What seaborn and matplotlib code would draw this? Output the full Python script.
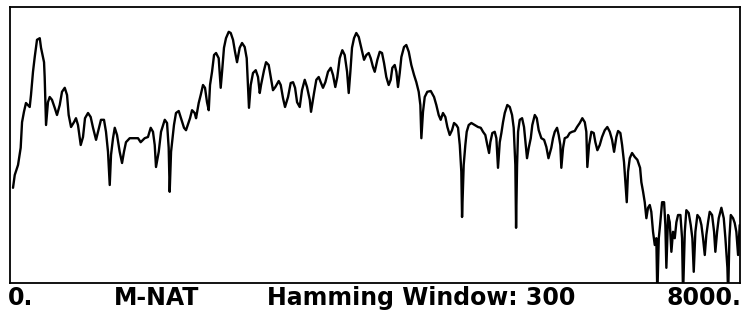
import numpy as np
import pandas as pd
import matplotlib
matplotlib.use("Agg")
from matplotlib import pyplot as plt
import seaborn as sns

# Spectrum: frequency (Hz) and level (dB, arbitrary zero)
freq_hz = [
    33, 52, 88, 117, 132, 153, 175, 216, 230, 252, 271, 296, 326, 340, 373, 380, 395,
    416, 435, 460, 490, 515, 545, 570, 600, 625, 643, 669, 701, 723, 745, 775, 800,
    822, 855, 884, 910, 943,
    997, 1030, 1052, 1074, 1093, 1107, 1129, 1148, 1173, 1202, 1228, 1249, 1271,
    1312, 1367, 1403, 1432, 1476, 1512, 1542, 1567, 1586, 1600, 1630, 1655, 1696,
    1721, 1739, 1750, 1765, 1797, 1819, 1849, 1874, 1907, 1929,
    1973, 1995, 2024, 2039, 2068, 2090, 2115, 2137, 2159, 2178, 2192, 2214, 2236,
    2258, 2287, 2309, 2324, 2345, 2367, 2397, 2419, 2444, 2466, 2488, 2517, 2543,
    2572, 2594, 2608, 2619, 2638, 2663, 2693, 2718, 2737, 2751, 2784, 2806, 2835,
    2857, 2882, 2908, 2945,
    2967, 2992, 3014, 3047, 3076, 3102, 3124, 3146, 3175, 3200, 3230, 3255, 3285,
    3299, 3332, 3357, 3383, 3405, 3430, 3456, 3485, 3515, 3540, 3565, 3587, 3613,
    3642, 3668, 3694, 3712, 3730, 3748, 3770, 3795, 3822, 3850, 3880, 3905, 3931,
    3953, 3978, 3997, 4026, 4052, 4077, 4099, 4124, 4150, 4172, 4190, 4216, 4234,
    4252, 4271, 4289, 4318, 4343, 4370, 4398, 4428, 4453, 4479, 4497, 4508, 4526,
    4545, 4573, 4611, 4647, 4672, 4698, 4720, 4745, 4771, 4793, 4819, 4844, 4866,
    4891, 4910, 4929, 4946, 4954, 4972, 4990, 5005, 5027, 5056, 5093, 5129, 5159,
    5184, 5209, 5231, 5250, 5264, 5286, 5312, 5330, 5348, 5367, 5385, 5403, 5422,
    5450, 5477, 5502, 5520, 5538, 5546, 5557, 5568, 5586, 5612, 5633, 5652, 5666,
    5685, 5707, 5724, 5751, 5773, 5794, 5823, 5853, 5878, 5901,
    5932, 5951, 5970, 5995, 6013, 6031, 6042, 6061, 6079, 6108, 6134, 6160, 6189,
    6214, 6244, 6272, 6299, 6316, 6327, 6346, 6371, 6397, 6415, 6437, 6463, 6488,
    6518, 6546, 6573, 6598, 6620, 6645, 6664, 6689, 6708, 6729, 6744, 6759, 6773,
    6792, 6817, 6847, 6875, 6905,
    6919, 6938, 6956, 6974, 6992, 7011, 7028, 7047, 7066, 7083, 7094, 7110, 7124,
    7146, 7168, 7182, 7193, 7212, 7230, 7248, 7266, 7285, 7303, 7321, 7347, 7365,
    7376, 7395, 7412, 7438, 7460, 7478, 7493, 7511, 7533, 7559, 7577, 7595, 7614,
    7631, 7650, 7668, 7694, 7716, 7730, 7749, 7767, 7796, 7822, 7840, 7862, 7870,
    7884, 7899, 7924, 7942, 7960, 7979, 7997,
]
level_db = [
    23.8, 27.0, 29.5, 33.8, 40.2, 42.8, 45.0, 44.0, 47.0, 52.8, 56.5, 60.8, 61.2, 58.8, 55.2, 51.5, 39.5,
    45.2, 46.5, 45.8, 43.8, 42.0, 44.5, 47.8, 48.8, 47.0, 42.0, 39.0, 40.2, 41.2, 39.5, 34.5, 36.5,
    41.2, 42.5, 41.5, 38.8, 35.8,
    40.8, 40.8, 37.8, 32.8, 24.5, 32.0, 36.2, 38.8, 37.0, 32.8, 30.0, 32.8, 35.2,
    36.2, 36.2, 36.2, 35.2, 36.2, 36.5, 38.8, 37.8, 34.5, 29.0, 32.8, 37.8, 40.8,
    40.0, 33.8, 22.8, 32.8, 39.5, 42.5, 43.0, 41.2, 38.8, 38.2,
    41.2, 43.2, 42.5, 41.2, 45.0, 47.0, 49.5, 48.8, 45.2, 43.2, 49.5, 52.8, 57.0,
    57.5, 56.2, 48.8, 52.8, 58.8, 61.2, 62.8, 62.5, 60.8, 57.8, 55.2, 58.8, 60.0,
    59.0, 56.2, 49.5, 43.8, 49.5, 52.5, 53.2, 51.5, 47.5, 49.5, 53.2, 55.2, 54.5,
    51.5, 48.2, 49.0, 50.5,
    49.5, 46.2, 44.0, 46.5, 50.0, 50.2, 48.8, 45.2, 44.0, 48.2, 50.8, 49.0, 45.8,
    42.8, 47.5, 50.8, 51.5, 50.2, 48.8, 50.2, 52.8, 53.8, 52.0, 49.0, 51.5, 56.2,
    58.2, 57.0, 52.8, 47.5, 52.8, 58.8, 61.2, 62.5, 61.5, 58.8, 55.8, 57.0, 57.5,
    56.2, 54.0, 52.8, 55.8, 57.8, 57.5, 55.0, 51.5, 49.5, 50.8, 53.8, 54.5, 52.8,
    49.0, 52.5, 56.5, 59.0, 59.5, 57.8, 54.5, 52.0, 50.2, 47.8, 44.5, 36.2, 42.8,
    46.5, 47.8, 48.0, 46.5, 44.5, 42.0, 40.8, 42.5, 41.5, 39.0, 37.0, 38.2, 40.0,
    39.5, 38.8, 34.5, 27.8, 16.5, 29.5, 34.5, 37.8, 39.5, 40.0, 39.5, 39.0, 38.8,
    37.8, 37.0, 34.5, 32.5, 35.2, 37.5, 37.8, 36.2, 28.8, 35.2, 37.5, 40.2, 42.5,
    44.5, 44.0, 42.0, 38.8, 29.5, 13.8, 29.5, 37.8, 40.8, 41.2, 39.0, 34.5, 31.2,
    33.8, 36.2, 39.5, 42.0, 41.2, 38.2, 36.2, 35.8, 34.0, 31.2,
    33.8, 36.2, 37.8, 38.8, 37.0, 34.5, 28.8, 33.8, 36.2, 36.5, 37.5, 37.8, 38.0,
    39.0, 40.0, 41.2, 40.2, 37.8, 29.0, 34.5, 37.8, 37.5, 35.2, 33.2, 34.5, 36.5,
    38.2, 39.0, 37.8, 35.8, 32.8, 36.5, 38.0, 37.5, 34.5, 30.2, 25.2, 20.2, 27.8,
    31.2, 32.5, 31.5, 30.8, 28.8,
    25.2, 22.8, 20.2, 16.2, 18.8, 19.5, 17.8, 12.8, 9.5, 11.2, -3.0, 11.2, 14.5,
    20.2, 20.2, 14.5, 3.8, 17.0, 15.2, 7.8, 12.8, 11.2, 15.2, 17.0, 17.0, 11.2,
    -3.0, 12.8, 18.2, 17.5, 14.5, 11.2, 2.8, 12.8, 17.0, 16.2, 14.5, 11.2, 7.0,
    12.0, 15.2, 17.8, 17.0, 12.8, 7.8, 12.8, 16.2, 18.8, 16.2, 11.2, 3.8, -3.0,
    11.2, 17.0, 16.2, 15.0, 12.8, 7.0, 14.5,
]

left_label = "0."
right_label = "8000."
speaker_label = "M-NAT"
window_label = "Hamming Window: 300"

df = pd.DataFrame({"freq": freq_hz, "level": level_db})

sns.set_theme(style="white")
plt.rcParams["font.family"] = ["DejaVu Sans"]

fig = plt.figure(figsize=(7.42, 3.13), dpi=100)
ax = fig.add_axes([10 / 742, 30 / 313, 730 / 742, 276 / 313])

sns.lineplot(data=df, x="freq", y="level", ax=ax, color="black",
             linewidth=1.7, estimator=None, sort=False)

ax.set_xlim(0, 8000)
ax.set_ylim(0, 69)
ax.set_xticks([])
ax.set_yticks([])
ax.set_xlabel("")
ax.set_ylabel("")
for sp in ax.spines.values():
    sp.set_color("black")
    sp.set_linewidth(1.3)

# labels under the frame
txt = dict(fontsize=17, fontweight="bold", color="black", va="baseline")
fig.text(8 / 742, 1 - 305 / 313, left_label, ha="left", **txt)
fig.text(157 / 742, 1 - 305 / 313, speaker_label, ha="center", **txt)
fig.text(421 / 742, 1 - 305 / 313, window_label, ha="center", **txt)
fig.text(741 / 742, 1 - 305 / 313, right_label, ha="right", **txt)

fig.savefig("out.png", dpi=100, facecolor="white")
